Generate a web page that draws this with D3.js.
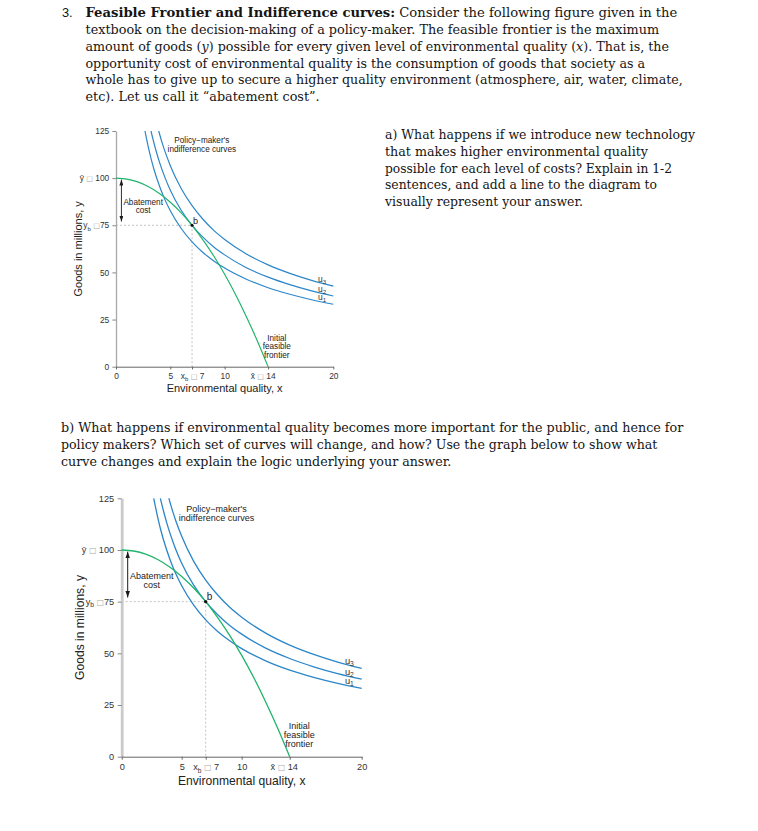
<!DOCTYPE html>
<html>
<head>
<meta charset="utf-8">
<script src="https://cdn.jsdelivr.net/npm/d3@7"></script>
<style>
  body { margin: 0; background: #fff; }
  .body { font-family: "DejaVu Serif", Georgia, serif; font-size: 13.5px; fill: #151515; white-space: pre; }
  .chart text { font-family: "Liberation Sans", Arial, sans-serif; }
</style>
</head>
<body>
<svg id="page" width="758" height="831"></svg>
<script>
// ---- Chart data ----
// feasible frontier: goods y for each environmental quality x
const frontierX = [0, 1, 2, 3, 4, 5, 6, 7, 8, 9, 10, 11, 12, 13, 14];
const frontierY = [100, 99.5, 98, 95.4, 91.8, 87.2, 81.6, 75, 67.3, 58.7, 49, 38.3, 26.5, 13.8, 0];

// indifference curves u1 < u2 < u3
const u1X = [2.67, 3, 3.25, 3.5, 4, 4.5, 5, 6, 7, 8, 9, 10, 12, 14, 16, 18, 20];
const u1Y = [125, 115.8, 109.8, 104.6, 95.8, 88.6, 82.7, 73.3, 66.2, 60.6, 56.1, 52.3, 46.4, 41.9, 38.4, 35.5, 33.1];
const u2X = [3.22, 3.5, 3.75, 4, 4.5, 5, 6, 7, 8, 9, 10, 12, 14, 16, 18, 20];
const u2Y = [125, 118.5, 113.2, 108.5, 100.4, 93.6, 83, 75, 68.7, 63.5, 59.3, 52.5, 47.5, 43.5, 40.2, 37.5];
const u3X = [3.93, 4.25, 4.5, 5, 6, 7, 8, 9, 10, 12, 14, 16, 18, 20];
const u3Y = [125, 118.7, 114.3, 106.6, 94.5, 85.4, 78.2, 72.3, 67.5, 59.8, 54, 49.5, 45.8, 42.7];

const curveNames = ['u_1', 'u_2', 'u_3'];
const pointB = [7, 75];       // chosen point b (x_b, y_b)
const yBar = 100, xBar = 14;  // max goods, max environmental quality

// ---- Tick labels ----
const yTickValues = [0, 25, 50, 75, 100, 125];
const yTickLabels = ['0', '25', '50', 'y_b □75', 'ȳ □ 100', '125'];
const xTickValues = [0, 5, 7, 10, 14, 20];
const xTickLabels = ['0', '5', 'x_b □ 7', '10', 'x̄ □ 14', '20'];

// ---- Page text ----
const questionLines = [
  [['Feasible Frontier and Indifference curves:', 'b'], [' Consider the following figure given in the']],
  [['textbook on the decision-making of a policy-maker. The feasible frontier is the maximum']],
  [['amount of goods ('], ['y', 'i'], [') possible for every given level of environmental quality ('], ['x', 'i'], ['). That is, the']],
  [['opportunity cost of environmental quality is the consumption of goods that society as a']],
  [['whole has to give up to secure a higher quality environment (atmosphere, air, water, climate,']],
  [['etc). Let us call it “abatement cost”.']]
];
const partALines = [
  [['a) What happens if we introduce new technology']],
  [['that makes higher environmental quality']],
  [['possible for each level of costs? Explain in 1-2']],
  [['sentences, and add a line to the diagram to']],
  [['visually represent your answer.']]
];
const partBLines = [
  [['b) What happens if environmental quality becomes more important for the public, and hence for']],
  [['policy makers? Which set of curves will change, and how? Use the graph below to show what']],
  [['curve changes and explain the logic underlying your answer.']]
];

const svg = d3.select('#page');

// ---- Text blocks ----
function drawLines(x0, y0, lh, lines, ends) {
  const g = svg.append('g');
  const nodes = lines.map((segs, i) => {
    const t = g.append('text').attr('class', 'body').attr('x', x0).attr('y', y0 + i * lh);
    segs.forEach(([s, st]) => {
      const ts = t.append('tspan').text(s);
      if (st === 'b') ts.attr('font-weight', 'bold');
      if (st === 'i') ts.attr('font-style', 'italic');
    });
    return t;
  });
  const ratios = [];
  nodes.forEach((t, i) => {
    if (ends[i]) {
      ratios.push((ends[i] - x0) / t.node().getComputedTextLength());
      t.attr('textLength', ends[i] - x0).attr('lengthAdjust', 'spacingAndGlyphs');
    }
  });
  const r = d3.mean(ratios);
  nodes.forEach((t, i) => {
    if (!ends[i]) {
      t.attr('textLength', t.node().getComputedTextLength() * r).attr('lengthAdjust', 'spacingAndGlyphs');
    }
  });
}

svg.append('text').attr('x', 62).attr('y', 17.3)
  .attr('font-family', '"Liberation Sans", Arial, sans-serif').attr('font-size', 12.8).attr('fill', '#151515')
  .text('3.');
drawLines(85.5, 17.3, 16.75, questionLines, [677.3, 659, 669, 645, 682.7, null]);
drawLines(385, 139.3, 16.6, partALines, [695, 648, 672, 657, null]);
drawLines(61, 432.3, 16.6, partBLines, [683.3, 657.3, null]);

// ---- Arrow marker ----
svg.append('defs').append('marker')
  .attr('id', 'head').attr('viewBox', '0 0 10 10').attr('refX', 10).attr('refY', 5)
  .attr('markerWidth', 6.5).attr('markerHeight', 4.5).attr('preserveAspectRatio', 'none')
  .attr('orient', 'auto-start-reverse')
  .append('path').attr('d', 'M0,0L10,5L0,10z').attr('fill', '#1a1a1a');

// rich label: "_b" subscript, "□" missing-glyph box
function rich(sel, label, fs) {
  sel.text(null);
  let shift = 0;
  label.split(/(_.|□)/).filter(s => s).forEach(p => {
    const ts = sel.append('tspan');
    if (p[0] === '_' && p.length === 2) {
      ts.attr('font-size', fs * 0.72).attr('dy', fs * 0.25).text(p[1]);
      shift = fs * 0.25;
    } else {
      if (shift) ts.attr('dy', -shift);
      shift = 0;
      ts.text(p);
      if (p === '□') ts.attr('fill', '#aaa').attr('font-family', '"DejaVu Sans", sans-serif').attr('font-size', fs * 0.85);
    }
  });
}

// ---- Chart ----
function drawChart(box, k, yAxisStyle) {
  const g = svg.append('g').attr('class', 'chart');
  const x = d3.scaleLinear().domain([0, 20]).range([box.left, box.right]);
  const y = d3.scaleLinear().domain([0, 125]).range([box.bottom, box.top]);
  const tickFs = 9.2 * k, noteFs = 9 * k, lh = 9.2 * k;

  // guide lines from b
  g.append('path')
    .attr('d', `M${x(0)},${y(pointB[1])}H${x(pointB[0])}V${y(0)}`)
    .attr('fill', 'none').attr('stroke', '#c4c4c4').attr('stroke-width', 1).attr('stroke-dasharray', '2,2');

  // axes
  const yAxis = d3.axisLeft(y).tickValues(yTickValues).tickSize(4 * k).tickPadding(3.5 * k).tickSizeOuter(0)
    .tickFormat((d, i) => yTickLabels[i]);
  g.append('g').attr('transform', `translate(${box.left},0)`).call(yAxis)
    .call(a => a.attr('font-family', null).attr('font-size', null))
    .call(a => a.select('.domain').attr('stroke', yAxisStyle.color).attr('stroke-width', yAxisStyle.width))
    .call(a => a.selectAll('.tick line').attr('stroke', '#888'))
    .call(a => a.selectAll('.tick text').attr('font-size', tickFs).attr('fill', '#333')
      .each(function (d, i) { rich(d3.select(this), yTickLabels[i], tickFs); }));

  const xAxis = d3.axisBottom(x).tickValues(xTickValues).tickSize(3 * k).tickPadding(4 * k).tickSizeOuter(0)
    .tickFormat((d, i) => xTickLabels[i]);
  g.append('g').attr('transform', `translate(0,${box.bottom})`).call(xAxis)
    .call(a => a.attr('font-family', null).attr('font-size', null))
    .call(a => a.select('.domain').attr('stroke', '#666').attr('stroke-width', 1))
    .call(a => a.selectAll('.tick line').attr('stroke', '#666'))
    .call(a => a.selectAll('.tick text').attr('font-size', tickFs).attr('fill', '#333')
      .each(function (d, i) { rich(d3.select(this), xTickLabels[i], tickFs); })
      .attr('dx', d => d === xBar ? -6 * k : 0));

  // axis titles
  g.append('text').attr('x', (box.left + box.right) / 2).attr('y', box.bottom + 28.3 * k)
    .attr('text-anchor', 'middle').attr('font-size', 12.1 * k).attr('fill', '#222')
    .text('Environmental quality, x');
  g.append('text')
    .attr('transform', `translate(${box.left - 37.5 * k},${(box.top + box.bottom) / 2}) rotate(-90)`)
    .attr('text-anchor', 'middle').attr('font-size', 12.1 * k).attr('fill', '#222')
    .text('Goods in millions, y');

  // curves
  const line = d3.line().x(d => x(d[0])).y(d => y(d[1])).curve(d3.curveMonotoneX);
  const uSeries = [d3.zip(u1X, u1Y), d3.zip(u2X, u2Y), d3.zip(u3X, u3Y)];
  g.selectAll('path.u').data(uSeries).join('path').attr('class', 'u')
    .attr('d', line).attr('fill', 'none').attr('stroke', '#2b86c8').attr('stroke-width', 1.3 * k);
  g.append('path').datum(d3.zip(frontierX, frontierY))
    .attr('d', line).attr('fill', 'none').attr('stroke', '#1fb46c').attr('stroke-width', 1.3 * k);

  // point b
  g.append('circle').attr('cx', x(pointB[0])).attr('cy', y(pointB[1])).attr('r', 1.7 * k).attr('fill', '#111');
  g.append('text').attr('x', x(pointB[0]) + 1 * k).attr('y', y(pointB[1]) - 1.5 * k)
    .attr('font-size', 10 * k).attr('fill', '#222').text('b');

  // abatement cost arrow
  g.append('line').attr('x1', x(0.5)).attr('x2', x(0.5)).attr('y1', y(yBar - 0.8)).attr('y2', y(pointB[1] + 2))
    .attr('stroke', '#1a1a1a').attr('stroke-width', 1 * k)
    .attr('marker-start', 'url(#head)').attr('marker-end', 'url(#head)');

  // notes
  const note = (cx, by, rows) => {
    const t = g.append('text').attr('text-anchor', 'middle').attr('font-size', noteFs).attr('fill', '#222');
    rows.forEach((r, i) => t.append('tspan').attr('x', x(cx)).attr('y', y(by) + i * lh).text(r));
  };
  note(7.9, 118.4, ['Policy−maker\'s', 'indifference curves']);
  note(2.5, 86, ['Abatement', 'cost']);
  note(14.8, 13.6, ['Initial', 'feasible', 'frontier']);

  // curve labels
  const uLabelY = [35.2, 39.7, 44.8];
  curveNames.forEach((n, i) => {
    const t = g.append('text').attr('x', x(18.6)).attr('y', y(uLabelY[i]))
      .attr('font-size', 9.3 * k).attr('fill', '#333');
    rich(t, n, 9.3 * k);
  });
}

drawChart({left: 116, right: 333.3, top: 131, bottom: 366.7}, 0.91, {color: '#a8a8a8', width: 1.3});
drawChart({left: 121.7, right: 361.7, top: 498.3, bottom: 756.7}, 1, {color: '#cacaca', width: 2.8});
</script>
</body>
</html>
